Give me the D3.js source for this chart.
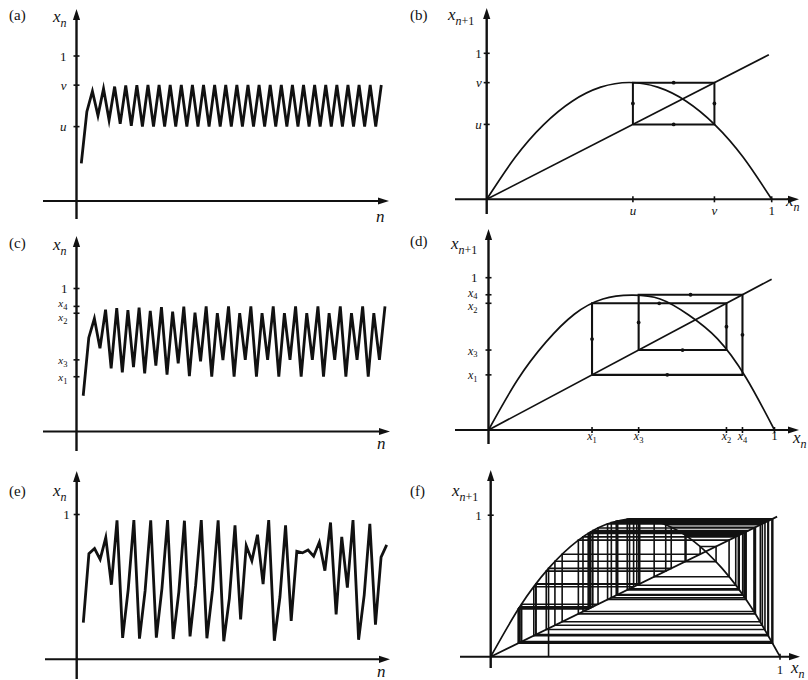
<!DOCTYPE html>
<html>
<head>
<meta charset="utf-8">
<script src="https://cdn.jsdelivr.net/npm/d3@7"></script>
<style>
  body { margin: 0; background: #fff; }
  svg { display: block; background: #fff; }
  text { font-family: "Liberation Serif", "Times New Roman", "DejaVu Serif", serif; fill: #111; }
</style>
</head>
<body>
<svg id="fig" width="808" height="680"></svg>
<script>
// ---- data -------------------------------------------------------------

// x_n against n for the three regimes (55 iterates each)
const seriesA = [0.260, 0.616, 0.757, 0.589, 0.775, 0.558, 0.789, 0.532, 0.797, 0.518, 0.799, 0.514,
  0.800, 0.513, 0.800, 0.513, 0.800, 0.513, 0.800, 0.513, 0.800, 0.513, 0.800, 0.513, 0.800, 0.513,
  0.800, 0.513, 0.800, 0.513, 0.800, 0.513, 0.800, 0.513, 0.800, 0.513, 0.800, 0.513, 0.800, 0.513,
  0.800, 0.513, 0.800, 0.513, 0.800, 0.513, 0.800, 0.513, 0.800, 0.513, 0.800, 0.513, 0.800, 0.513,
  0.800];

const seriesC = [0.250, 0.656, 0.790, 0.582, 0.852, 0.442, 0.863, 0.413, 0.849, 0.450, 0.866, 0.406,
  0.844, 0.461, 0.870, 0.397, 0.838, 0.476, 0.873, 0.388, 0.831, 0.491, 0.875, 0.384, 0.828, 0.500,
  0.875, 0.383, 0.827, 0.501, 0.875, 0.383, 0.827, 0.501, 0.875, 0.383, 0.827, 0.501, 0.875, 0.383,
  0.827, 0.501, 0.875, 0.383, 0.827, 0.501, 0.875, 0.383, 0.827, 0.501, 0.875, 0.383, 0.827, 0.501,
  0.875];

const seriesE = [0.254, 0.730, 0.765, 0.690, 0.840, 0.515, 0.960, 0.148, 0.485, 0.961, 0.143, 0.472,
  0.960, 0.150, 0.490, 0.962, 0.140, 0.464, 0.957, 0.158, 0.512, 0.961, 0.145, 0.477, 0.960, 0.125,
  0.421, 0.925, 0.275, 0.785, 0.680, 0.860, 0.520, 0.962, 0.128, 0.430, 0.925, 0.265, 0.746, 0.735,
  0.755, 0.712, 0.808, 0.612, 0.945, 0.310, 0.845, 0.495, 0.962, 0.135, 0.445, 0.935, 0.240, 0.705,
  0.790];

// the longer chaotic orbit traced in the cobweb (f), starting from the x-axis
const orbitF = [0.200, 0.624, 0.915, 0.303, 0.824, 0.565, 0.958, 0.156, 0.512, 0.974, 0.097, 0.343,
  0.878, 0.417, 0.948, 0.192, 0.605, 0.932, 0.247, 0.724, 0.779, 0.672, 0.859, 0.472, 0.972, 0.107,
  0.371, 0.910, 0.319, 0.847, 0.505, 0.975, 0.095, 0.337, 0.871, 0.439, 0.960, 0.149, 0.494, 0.975,
  0.096, 0.338, 0.872, 0.434, 0.958, 0.157, 0.515, 0.974, 0.098, 0.346, 0.883, 0.404, 0.939, 0.222,
  0.675, 0.856, 0.480, 0.974, 0.101, 0.353, 0.891];

// the attracting cycles marked on the axes
const cycleUV = [0.513, 0.799];                 // u, v
const cycleC = [0.383, 0.827, 0.501, 0.875];    // x1, x2, x3, x4 as ticked in (c)
const cycleD = [0.362, 0.832, 0.525, 0.888];    // x1, x2, x3, x4 as drawn in (d)

// the map x_{n+1} = f(x_n), sampled along x_n
const mapX = [0, 0.1, 0.2, 0.3, 0.4, 0.5, 0.6, 0.7, 0.8, 0.9, 1];
const mapB = [0, 0.288, 0.512, 0.672, 0.768, 0.800, 0.768, 0.672, 0.512, 0.288, 0];
const mapD = [0, 0.325, 0.575, 0.760, 0.860, 0.885, 0.860, 0.755, 0.600, 0.345, 0];
const mapF = [0, 0.351, 0.624, 0.819, 0.936, 0.975, 0.936, 0.819, 0.624, 0.351, 0];

// tick labels: [value, main, subscript, vertical nudge]
const ticksA = [[1, "1", "", 0], [cycleUV[1], "v", "", 0], [cycleUV[0], "u", "", 0]];
const ticksBy = ticksA;
const ticksBx = [[cycleUV[0], "u", "", 0], [cycleUV[1], "v", "", 0], [1, "1", "", 0]];
const ticksC = [[1, "1", "", 0], [cycleC[3], "x", "4", -3.5], [cycleC[1], "x", "2", 3.5],
  [cycleC[2], "x", "3", 0], [cycleC[0], "x", "1", 0]];
const ticksDy = [[1, "1", "", 0], [cycleD[3], "x", "4", -2.5], [cycleD[1], "x", "2", 2.5],
  [cycleD[2], "x", "3", 0], [cycleD[0], "x", "1", 0]];
const ticksDx = [[cycleD[0], "x", "1", 0], [cycleD[2], "x", "3", 0], [cycleD[1], "x", "2", 0],
  [cycleD[3], "x", "4", 0], [1, "1", "", 0]];
const ticksE = [[1, "1", "", 0]];

// ---- drawing helpers ---------------------------------------------------
const svg = d3.select("#fig");
const ink = "#111";

function arrowUp(g, x, y) {
  g.append("path").attr("d", `M${x},${y} L${x - 3.6},${y + 11} L${x + 3.6},${y + 11} Z`).attr("fill", ink);
}
function arrowRight(g, x, y) {
  g.append("path").attr("d", `M${x},${y} L${x - 11},${y - 3.6} L${x - 11},${y + 3.6} Z`).attr("fill", ink);
}

// italic symbol with an optional subscript; sub may be a list of [text, italic]
function mathText(g, x, y, main, sub, o = {}) {
  const size = o.size || 16, subSize = o.subSize || 11;
  const t = g.append("text").attr("x", x).attr("y", y)
    .attr("text-anchor", o.anchor || "start").attr("font-size", size);
  const isNum = /^[0-9]$/.test(main);
  t.append("tspan").attr("font-style", isNum ? "normal" : "italic").text(main);
  if (sub) {
    const parts = Array.isArray(sub) ? sub : [[sub, !/^[0-9]+$/.test(sub)]];
    parts.forEach((p, i) => {
      const s = t.append("tspan").attr("font-size", subSize)
        .attr("font-style", p[1] ? "italic" : "normal").text(p[0]);
      if (i === 0) s.attr("dy", o.subDy || 5);
    });
  }
  return t;
}

function panelLetter(g, x, y, s) {
  g.append("text").attr("x", x).attr("y", y).attr("font-size", 15).text(s);
}

function axes(g, c) {
  g.append("line").attr("x1", c.left).attr("x2", c.right - 6).attr("y1", c.oy).attr("y2", c.oy)
    .attr("stroke", ink).attr("stroke-width", 2);
  arrowRight(g, c.right, c.oy);
  g.append("line").attr("x1", c.ox).attr("x2", c.ox).attr("y1", c.bottom).attr("y2", c.top + 6)
    .attr("stroke", ink).attr("stroke-width", 2.4);
  arrowUp(g, c.ox, c.top);
}

// ---- time-series panels --------------------------------------------------
function seriesPanel(c) {
  const g = svg.append("g");
  const x = d3.scaleLinear().domain([0, c.values.length - 1]).range([c.nStart, c.nEnd]);
  const y = d3.scaleLinear().domain([0, 1]).range([c.oy, c.oy - c.k]);
  axes(g, c);

  c.ticks.forEach(t => {
    g.append("line").attr("x1", c.ox - 3).attr("x2", c.ox + 3)
      .attr("y1", y(t[0])).attr("y2", y(t[0])).attr("stroke", ink).attr("stroke-width", 1.6);
    mathText(g, c.ox - c.labelGap, y(t[0]) + 4.5 + t[3], t[1], t[2],
      { size: t[2] ? (c.subLabelSize || 12) : 13, subSize: 8.5, subDy: 2.5, anchor: "end" });
  });

  g.append("path").datum(c.values)
    .attr("d", d3.line().x((d, i) => x(i)).y(d => y(d)))
    .attr("fill", "none").attr("stroke", ink).attr("stroke-width", 2.8)
    .attr("stroke-linejoin", "miter").attr("stroke-miterlimit", 6);

  panelLetter(g, c.letterX, c.letterY, c.letter);
  mathText(g, 53, c.nameY, "x", "n", { size: 17, subSize: 12, subDy: 5 });
  mathText(g, c.nX, c.nY, "n", "", { size: 17 });
}

// ---- cobweb panels -------------------------------------------------------
function cobwebPanel(c) {
  const g = svg.append("g");
  const x = d3.scaleLinear().domain([0, 1]).range([c.ox, c.ox + c.kx]);
  const y = d3.scaleLinear().domain([0, 1]).range([c.oy, c.oy - c.ky]);
  axes(g, c);

  (c.yTicks || []).forEach(t => {
    g.append("line").attr("x1", c.ox - 3).attr("x2", c.ox + 3)
      .attr("y1", y(t[0])).attr("y2", y(t[0])).attr("stroke", ink).attr("stroke-width", 1.6);
    mathText(g, c.ox - c.yLabelGap, y(t[0]) + 4.5 + t[3], t[1], t[2],
      { size: t[2] ? 12 : 13, subSize: 8.5, subDy: 2.5, anchor: "end" });
  });
  (c.xTicks || []).forEach(t => {
    g.append("line").attr("x1", x(t[0])).attr("x2", x(t[0]))
      .attr("y1", c.oy - 3).attr("y2", c.oy + 3).attr("stroke", ink).attr("stroke-width", 1.6);
    mathText(g, x(t[0]), c.oy + c.xLabelDy, t[1], t[2],
      { size: t[2] ? 12 : 13, subSize: 8.5, subDy: 2.5, anchor: "middle" });
  });

  // the map f
  const curvePts = mapX.map((v, i) => [v, c.map[i]]);
  g.append("path").datum(curvePts)
    .attr("d", d3.line().x(d => x(d[0])).y(d => y(d[1])).curve(d3.curveNatural))
    .attr("fill", "none").attr("stroke", ink).attr("stroke-width", 1.7);

  // the diagonal x_{n+1} = x_n
  g.append("line").attr("x1", x(0)).attr("y1", y(0)).attr("x2", x(c.diagEnd)).attr("y2", y(c.diagEnd))
    .attr("stroke", ink).attr("stroke-width", 1.7);

  // cobweb staircase
  const orb = c.orbit;
  let pts = [];
  if (c.closed) {
    orb.forEach((v, i) => {
      const nxt = orb[(i + 1) % orb.length];
      pts.push([v, v], [v, nxt]);
    });
    pts.push([orb[0], orb[0]]);
  } else {
    pts.push([orb[0], 0]);
    for (let i = 0; i < orb.length - 1; i++) {
      pts.push([orb[i], orb[i + 1]], [orb[i + 1], orb[i + 1]]);
    }
  }
  g.append("path").datum(pts)
    .attr("d", d3.line().x(d => x(d[0])).y(d => y(d[1])))
    .attr("fill", "none").attr("stroke", ink).attr("stroke-width", c.webWidth)
    .attr("stroke-linejoin", "miter");

  if (c.closed) {
    // direction marks half way along each step
    for (let i = 0; i < pts.length - 1; i++) {
      g.append("circle")
        .attr("cx", (x(pts[i][0]) + x(pts[i + 1][0])) / 2)
        .attr("cy", (y(pts[i][1]) + y(pts[i + 1][1])) / 2)
        .attr("r", 1.9).attr("fill", ink);
    }
  }

  panelLetter(g, c.letterX, c.letterY, c.letter);
  mathText(g, c.nameX, c.nameY, "x", [["n", true], ["+1", false]], { size: 17, subSize: 12, subDy: 5 });
  mathText(g, c.xnX, c.xnY, "x", "n", { size: 17, subSize: 12, subDy: 5 });
}

// ---- layout ------------------------------------------------------------
seriesPanel({ values: seriesA, ticks: ticksA, letter: "(a)", letterX: 9, letterY: 20,
  ox: 76.5, oy: 201, k: 145, nStart: 81.3, nEnd: 381.3,
  top: 9, bottom: 219, left: 43, right: 389, labelGap: 10,
  nameY: 22, nX: 376, nY: 222 });

cobwebPanel({ letter: "(b)", letterX: 410, letterY: 20, nameX: 448, nameY: 20,
  ox: 486.7, oy: 199.3, kx: 285, ky: 146, diagEnd: 0.99,
  top: 8, bottom: 214, left: 455, right: 799,
  map: mapB, orbit: cycleUV, closed: true, webWidth: 2,
  yTicks: ticksBy, xTicks: ticksBx, yLabelGap: 5, xLabelDy: 16,
  xnX: 786, xnY: 206 });

seriesPanel({ values: seriesC, ticks: ticksC, letter: "(c)", letterX: 9, letterY: 248,
  ox: 76.5, oy: 431.5, k: 143, nStart: 83.2, nEnd: 385,
  top: 236, bottom: 451, left: 43, right: 390, labelGap: 9, subLabelSize: 11,
  nameY: 250, nX: 377, nY: 449 });

cobwebPanel({ letter: "(d)", letterX: 410, letterY: 246, nameX: 451, nameY: 249,
  ox: 488.5, oy: 430, kx: 286, ky: 152.3, diagEnd: 0.99,
  top: 229, bottom: 444, left: 455, right: 799,
  map: mapD, orbit: cycleD, closed: true, webWidth: 2.1,
  yTicks: ticksDy, xTicks: ticksDx, yLabelGap: 11, xLabelDy: 10,
  xnX: 793, xnY: 443 });

seriesPanel({ values: seriesE, ticks: ticksE, letter: "(e)", letterX: 9, letterY: 496,
  ox: 76.7, oy: 659.3, k: 144.8, nStart: 83.3, nEnd: 386.7,
  top: 471, bottom: 679, left: 45, right: 390, labelGap: 7,
  nameY: 496, nX: 377, nY: 677 });

cobwebPanel({ letter: "(f)", letterX: 410, letterY: 496, nameX: 452, nameY: 496,
  ox: 490.7, oy: 656.7, kx: 289.3, ky: 141.5, diagEnd: 0.99,
  top: 470, bottom: 668, left: 460, right: 800,
  map: mapF, orbit: orbitF, closed: false, webWidth: 1.6,
  yTicks: ticksE, xTicks: [[1, "1", "", 0]], yLabelGap: 9, xLabelDy: 17,
  xnX: 791, xnY: 673 });
</script>
</body>
</html>
